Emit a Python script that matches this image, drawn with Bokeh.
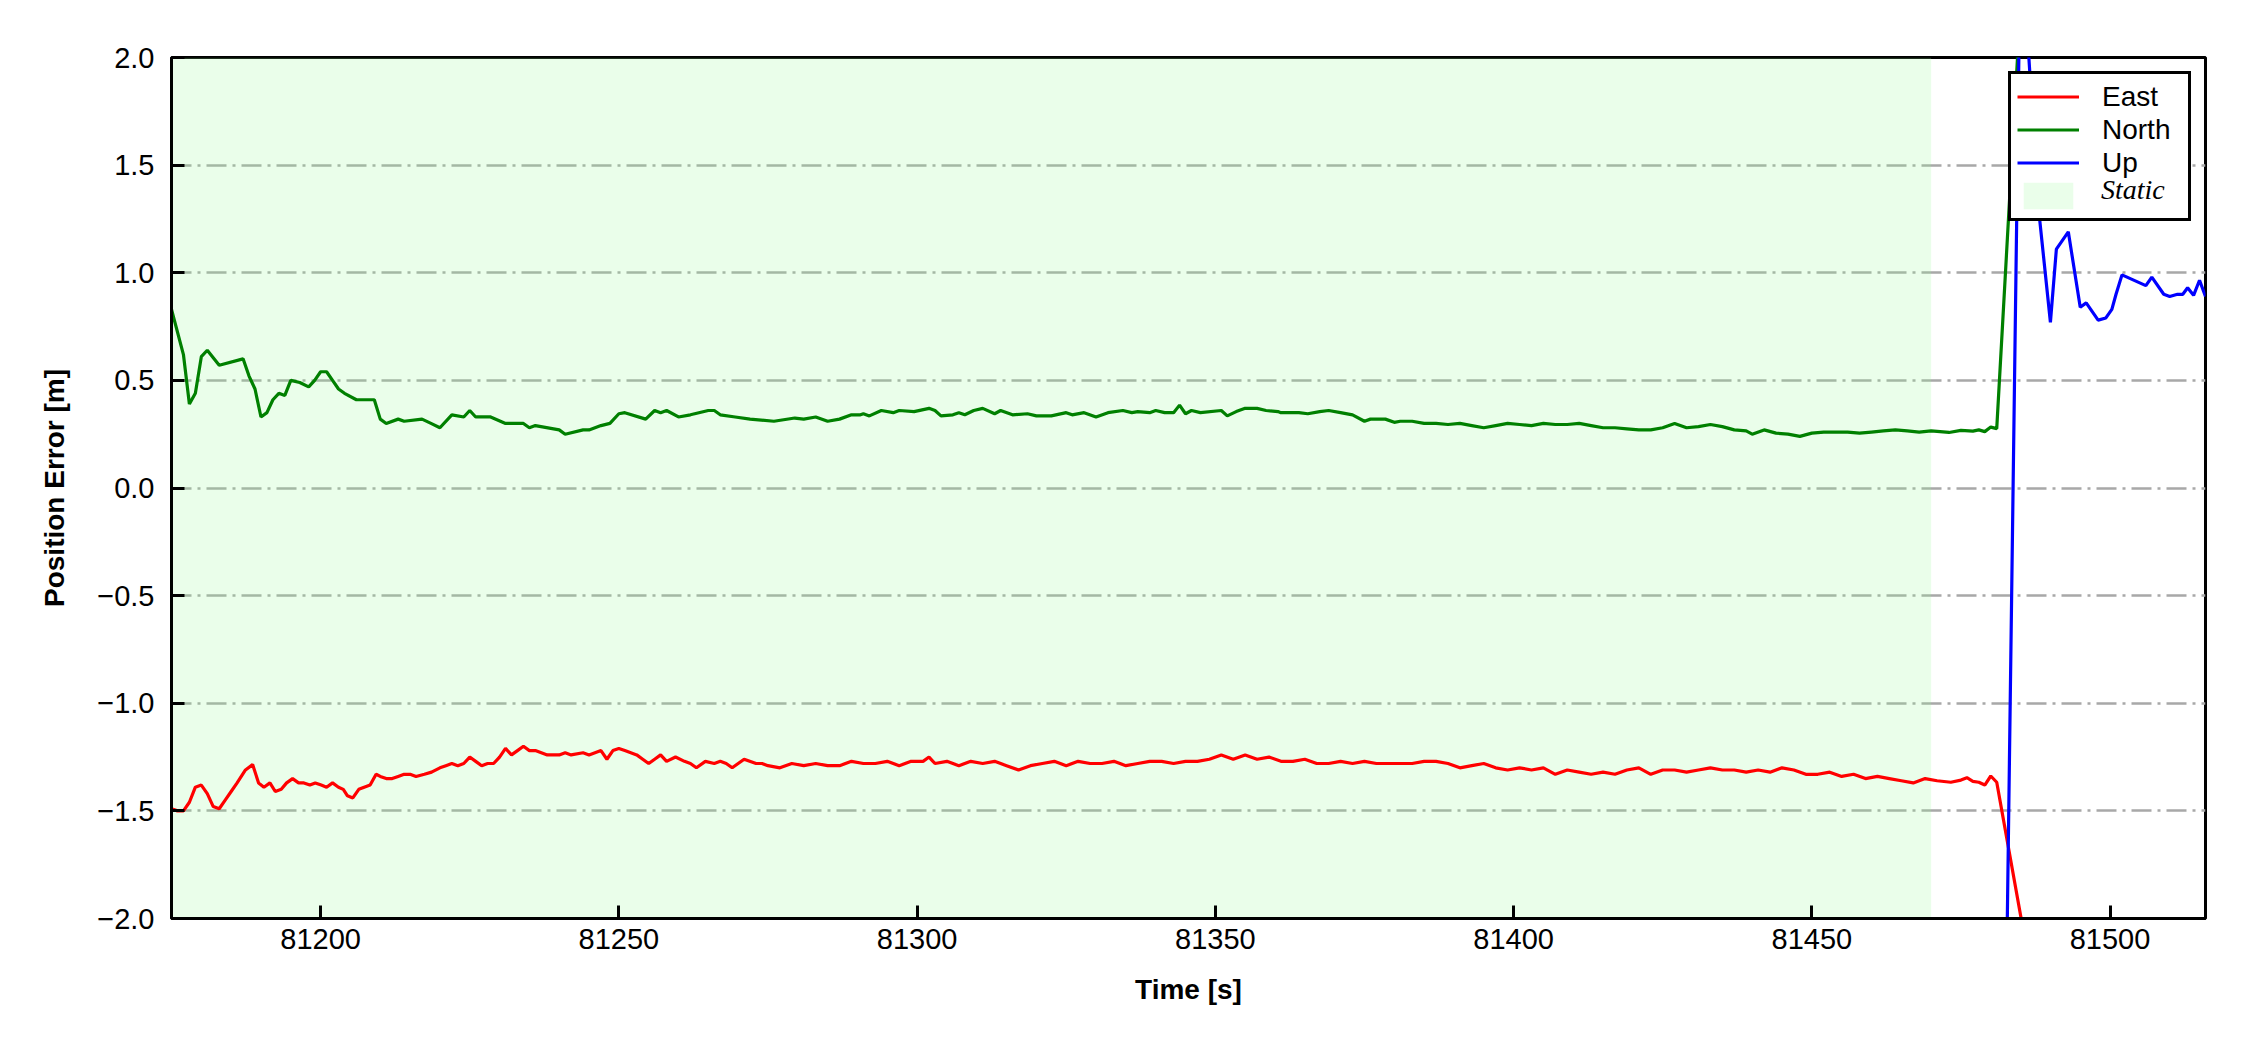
from bokeh.plotting import figure
from bokeh.models import Range1d, FixedTicker, Legend, LegendItem
from bokeh.embed import file_html
from bokeh.resources import INLINE

# ---------------- data ----------------
X_LIM = (81175, 81516)
Y_LIM = (-2.0, 2.0)
X_TICKS = [81200, 81250, 81300, 81350, 81400, 81450, 81500]
Y_TICKS = [-2.0, -1.5, -1.0, -0.5, 0.0, 0.5, 1.0, 1.5, 2.0]
Y_TICK_LABELS = ["\u22122.0", "\u22121.5", "\u22121.0", "\u22120.5", "0.0", "0.5", "1.0", "1.5", "2.0"]
STATIC_START = [81175]
STATIC_END = [81470]

EAST = [
    (81175, -1.49), (81176, -1.50), (81177, -1.50), (81178, -1.46), (81179, -1.39), (81180, -1.38),
    (81181, -1.42), (81182, -1.48), (81183, -1.49), (81184, -1.45), (81185, -1.41), (81186, -1.37),
    (81187.4, -1.31), (81188.6, -1.285), (81189.6, -1.37), (81190.5, -1.39), (81191.5, -1.37),
    (81192.4, -1.41), (81193.4, -1.40), (81194.3, -1.37), (81195.3, -1.35), (81196.3, -1.37),
    (81197.2, -1.37), (81198.2, -1.38), (81199.1, -1.37), (81200.1, -1.38), (81201, -1.39),
    (81202, -1.37), (81203, -1.39), (81203.8, -1.40), (81204.5, -1.43), (81205.4, -1.44),
    (81206.4, -1.40), (81207.3, -1.39), (81208.3, -1.38), (81209.3, -1.33), (81210, -1.34),
    (81211, -1.35), (81212, -1.35), (81213, -1.34), (81214, -1.33), (81215, -1.33), (81216, -1.34),
    (81217.4, -1.33), (81218.6, -1.32), (81220, -1.30), (81221, -1.29), (81222, -1.28),
    (81223, -1.29), (81224, -1.28), (81225, -1.25), (81226, -1.27), (81227, -1.29), (81228, -1.28),
    (81229, -1.28), (81230, -1.25), (81231, -1.21), (81232, -1.24), (81233, -1.22), (81234, -1.20),
    (81235, -1.22), (81236, -1.22), (81237, -1.23), (81238, -1.24), (81240, -1.24), (81241, -1.23),
    (81242, -1.24), (81244, -1.23), (81245, -1.24), (81246, -1.23), (81247, -1.22), (81248, -1.26),
    (81249, -1.22), (81250, -1.21), (81251, -1.22), (81253, -1.24), (81254, -1.26), (81255, -1.28),
    (81256, -1.26), (81257, -1.24), (81258, -1.27), (81259.5, -1.25), (81261, -1.27), (81262, -1.28),
    (81263, -1.30), (81264.5, -1.27), (81266, -1.28), (81267, -1.27), (81268, -1.28), (81269, -1.30),
    (81270, -1.28), (81271, -1.26), (81273, -1.28), (81274, -1.28), (81275, -1.29), (81277, -1.30),
    (81279, -1.28), (81281, -1.29), (81283, -1.28), (81285, -1.29), (81287, -1.29), (81289, -1.27),
    (81291, -1.28), (81293, -1.28), (81295, -1.27), (81297, -1.29), (81299, -1.27), (81301, -1.27),
    (81302, -1.25), (81303, -1.28), (81305, -1.27), (81307, -1.29), (81309, -1.27), (81311, -1.28),
    (81313, -1.27), (81315, -1.29), (81317, -1.31), (81319, -1.29), (81321, -1.28), (81323, -1.27),
    (81325, -1.29), (81327, -1.27), (81329, -1.28), (81331, -1.28), (81333, -1.27), (81335, -1.29),
    (81337, -1.28), (81339, -1.27), (81341, -1.27), (81343, -1.28), (81345, -1.27), (81347, -1.27),
    (81349, -1.26), (81351, -1.24), (81353, -1.26), (81355, -1.24), (81357, -1.26), (81359, -1.25),
    (81361, -1.27), (81363, -1.27), (81365, -1.26), (81367, -1.28), (81369, -1.28), (81371, -1.27),
    (81373, -1.28), (81375, -1.27), (81377, -1.28), (81379, -1.28), (81381, -1.28), (81383, -1.28),
    (81385, -1.27), (81387, -1.27), (81389, -1.28), (81391, -1.30), (81393, -1.29), (81395, -1.28),
    (81397, -1.30), (81399, -1.31), (81401, -1.30), (81403, -1.31), (81405, -1.30), (81407, -1.33),
    (81409, -1.31), (81411, -1.32), (81413, -1.33), (81415, -1.32), (81417, -1.33), (81419, -1.31),
    (81421, -1.30), (81423, -1.33), (81425, -1.31), (81427, -1.31), (81429, -1.32), (81431, -1.31),
    (81433, -1.30), (81435, -1.31), (81437, -1.31), (81439, -1.32), (81441, -1.31), (81443, -1.32),
    (81445, -1.30), (81447, -1.31), (81449, -1.33), (81451, -1.33), (81453, -1.32), (81455, -1.34),
    (81457, -1.33), (81459, -1.35), (81461, -1.34), (81463, -1.35), (81465, -1.36), (81467, -1.37),
    (81469, -1.35), (81471, -1.36), (81473.3, -1.367), (81475, -1.357), (81476, -1.346),
    (81477, -1.363), (81478, -1.367), (81479, -1.380), (81480, -1.338), (81481, -1.367),
    (81486, -2.14),
]

NORTH = [
    (81175, 0.83), (81177, 0.62), (81178, 0.39), (81179, 0.44), (81180, 0.61), (81181, 0.64),
    (81183, 0.57), (81187, 0.60), (81188, 0.52), (81189, 0.46), (81190, 0.33), (81191, 0.35),
    (81192, 0.41), (81193, 0.44), (81194, 0.43), (81195, 0.50), (81196.5, 0.49), (81198, 0.47),
    (81199, 0.50), (81200, 0.54), (81201, 0.54), (81202, 0.50), (81203, 0.46), (81204, 0.44),
    (81206, 0.41), (81208, 0.41), (81209, 0.41), (81210, 0.32), (81211, 0.30), (81213, 0.32),
    (81214, 0.31), (81217, 0.32), (81218.5, 0.30), (81220, 0.28), (81222, 0.34), (81224, 0.33),
    (81225, 0.36), (81226, 0.33), (81228.5, 0.33), (81231, 0.30), (81234, 0.30), (81235, 0.28),
    (81236, 0.29), (81240, 0.27), (81241, 0.25), (81244, 0.27), (81245, 0.27), (81247, 0.29),
    (81248.5, 0.30), (81250, 0.345), (81251, 0.35), (81254.5, 0.32), (81256, 0.36), (81257, 0.35),
    (81258, 0.36), (81260, 0.33), (81262, 0.34), (81265, 0.36), (81266, 0.36), (81267, 0.34),
    (81269.5, 0.33), (81272, 0.32), (81276, 0.31), (81279.5, 0.325), (81281, 0.32), (81283, 0.33),
    (81285, 0.31), (81287, 0.32), (81289, 0.34), (81290.5, 0.34), (81291, 0.345), (81292, 0.335),
    (81294, 0.36), (81296, 0.35), (81297, 0.36), (81299.5, 0.355), (81302, 0.37), (81303, 0.36),
    (81304, 0.335), (81306, 0.34), (81307, 0.35), (81308, 0.34), (81309.5, 0.36), (81311, 0.37),
    (81313, 0.345), (81314, 0.36), (81316, 0.34), (81318.5, 0.345), (81320, 0.335), (81322.5, 0.335),
    (81325, 0.35), (81326, 0.34), (81328, 0.35), (81330, 0.33), (81332, 0.35), (81334.5, 0.36),
    (81336, 0.35), (81337, 0.355), (81339, 0.35), (81340, 0.36), (81341.5, 0.35), (81343, 0.35),
    (81344, 0.385), (81345, 0.345), (81346, 0.36), (81347.5, 0.35), (81351, 0.36), (81352, 0.335),
    (81353.5, 0.355), (81355, 0.37), (81357, 0.37), (81358.5, 0.36), (81360.5, 0.355), (81361, 0.35),
    (81364, 0.35), (81365.5, 0.345), (81367.5, 0.355), (81369, 0.36), (81371, 0.35), (81373, 0.34),
    (81375, 0.31), (81376, 0.32), (81378.5, 0.32), (81380, 0.305), (81381, 0.31), (81383, 0.31),
    (81385, 0.30), (81387, 0.30), (81389, 0.295), (81391, 0.30), (81393, 0.29), (81395, 0.28),
    (81397, 0.29), (81399, 0.30), (81401, 0.295), (81403, 0.29), (81405, 0.30), (81407, 0.295),
    (81409, 0.295), (81411, 0.30), (81413, 0.29), (81415, 0.28), (81417, 0.28), (81419, 0.275),
    (81421, 0.27), (81423, 0.27), (81425, 0.28), (81427, 0.30), (81429, 0.28), (81431, 0.285),
    (81433, 0.295), (81435, 0.285), (81437, 0.27), (81439, 0.265), (81440, 0.25), (81442, 0.27),
    (81444, 0.255), (81446, 0.25), (81448, 0.24), (81450, 0.255), (81452, 0.26), (81454, 0.26),
    (81456, 0.26), (81458, 0.255), (81460, 0.26), (81462, 0.265), (81464, 0.27), (81466, 0.265),
    (81468, 0.26), (81470, 0.265), (81473, 0.258), (81475, 0.268), (81477, 0.264), (81478, 0.27),
    (81479, 0.262), (81480, 0.283), (81481, 0.276), (81486, 2.75),
]

UP = [
    (81482, -3.6), (81485, 2.6), (81488, 1.3), (81490, 0.77), (81491, 1.11), (81493, 1.19),
    (81495, 0.84), (81496, 0.86), (81498, 0.78), (81499.3, 0.79), (81500.3, 0.83), (81501, 0.90),
    (81502, 0.99), (81506, 0.94), (81507, 0.98), (81509, 0.90), (81510, 0.89), (81511.3, 0.90),
    (81512.2, 0.90), (81513, 0.93), (81514, 0.895), (81515, 0.965), (81516, 0.89),
]

SERIES = [("East", EAST, "#ff0000"), ("North", NORTH, "#008000"), ("Up", UP, "#0000ff")]
STATIC_NAME = "Static"

# ---------------- figure ----------------
FONT = "Liberation Sans"
p = figure(width=2234, height=1034, output_backend="svg", toolbar_location=None,
           x_range=Range1d(*X_LIM), y_range=Range1d(*Y_LIM),
           min_border_left=171, min_border_right=29, min_border_top=57, min_border_bottom=116)
p.background_fill_color = "white"
p.border_fill_color = "white"
p.outline_line_color = "black"
p.outline_line_width = 3
p.outline_line_alpha = 1.0

static_r = p.quad(left=STATIC_START, right=STATIC_END, bottom=[Y_LIM[0]], top=[Y_LIM[1]],
                  fill_color="palegreen", fill_alpha=0.2, line_color=None)

line_rs = []
for name, data, color in SERIES:
    xs = [d[0] for d in data]
    ys = [d[1] for d in data]
    r = p.line(xs, ys, line_color=color, line_width=3.2)
    line_rs.append((name, r))

# invisible renderer used only for legend rows that must show no glyph
ghost = p.line(x=[], y=[], line_alpha=0)

# grid
p.xgrid.visible = False
p.ygrid.ticker = FixedTicker(ticks=Y_TICKS)
p.ygrid.grid_line_color = "#a8a8a8"
p.ygrid.grid_line_width = 2.5
p.ygrid.grid_line_dash = "20 6 3 6"

# axes
for ax in (p.xaxis[0], p.yaxis[0]):
    ax.axis_line_color = "black"
    ax.axis_line_width = 3
    ax.major_tick_in = 13
    ax.major_tick_out = 0
    ax.major_tick_line_width = 3
    ax.major_tick_line_color = "black"
    ax.minor_tick_line_color = None
    ax.major_label_text_font = FONT
    ax.major_label_text_font_size = "29px"
    ax.major_label_text_color = "black"
    ax.axis_label_text_font = FONT
    ax.axis_label_text_font_size = "28px"
    ax.axis_label_text_font_style = "bold"
    ax.axis_label_text_color = "black"

p.xaxis.ticker = FixedTicker(ticks=X_TICKS)
p.yaxis.ticker = FixedTicker(ticks=Y_TICKS)
p.yaxis.major_label_overrides = {t: lab for t, lab in zip(Y_TICKS, Y_TICK_LABELS)}
p.xaxis.major_label_standoff = 10
p.yaxis.major_label_standoff = 17
p.xaxis.axis_label = "Time [s]"
p.yaxis.axis_label = "Position Error [m]"
p.xaxis.axis_label_standoff = 22
p.yaxis.axis_label_standoff = 24

# legends: one box with the sans-serif rows, a twin on top carrying the italic serif "Static"
common = dict(location="top_right", margin=14, padding=6, spacing=0, glyph_width=62,
              label_standoff=23, label_text_font_size="28px", label_text_color="black",
              label_text_line_height=1.0)

items_a = [LegendItem(label=name, renderers=[r]) for name, r in line_rs]
items_a.append(LegendItem(label=" ", renderers=[static_r]))
legend_a = Legend(items=items_a, label_text_font=FONT, glyph_height=33, label_height=33,
                  label_width=80, border_line_color="black", border_line_width=3,
                  border_line_alpha=1.0, background_fill_color="white",
                  background_fill_alpha=1.0, **common)
p.add_layout(legend_a, "center")

items_b = [LegendItem(label=" ", renderers=[ghost]) for _ in line_rs]
items_b.append(LegendItem(label=STATIC_NAME, renderers=[ghost]))
legend_b = Legend(items=items_b, label_text_font="Liberation Serif", label_text_font_style="italic",
                  glyph_height=34, label_height=34, label_width=90,
                  border_line_color=None, background_fill_alpha=0.0, **common)
p.add_layout(legend_b, "center")

open("out.html", "w").write(file_html(p, INLINE))
